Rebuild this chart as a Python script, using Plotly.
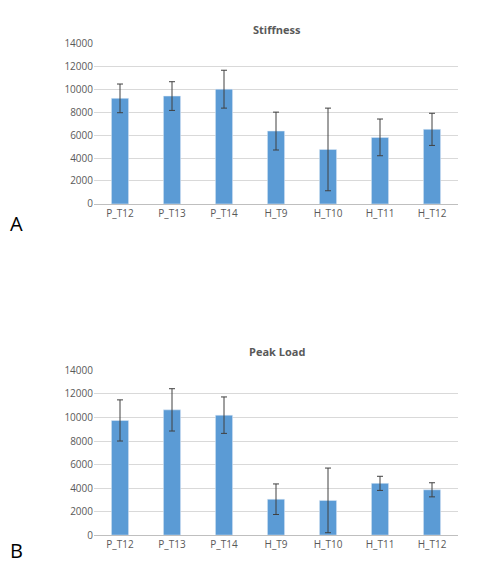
import plotly.graph_objects as go

categories = ["P_T12", "P_T13", "P_T14", "H_T9", "H_T10", "H_T11", "H_T12"]
stiffness = [9200, 9400, 10000, 6350, 4750, 5800, 6500]
stiffness_err = [1250, 1250, 1650, 1650, 3600, 1600, 1400]
peak_load = [9750, 10650, 10200, 3050, 2950, 4400, 3850]
peak_load_err = [1750, 1800, 1550, 1300, 2750, 600, 600]
y_ticks = [0, 2000, 4000, 6000, 8000, 10000, 12000, 14000]
y_tick_labels = [str(v) for v in y_ticks]

H = 574
W = 498
fig = go.Figure()
bar_color = "#5B9BD5"
for vals, errs, ax in [(stiffness, stiffness_err, ""), (peak_load, peak_load_err, "2")]:
    fig.add_trace(go.Bar(x=categories, y=vals, marker_color=bar_color, width=0.33,
                         error_y=dict(type="data", array=errs, color="#404040", thickness=1, width=3),
                         xaxis="x" + ax, yaxis="y" + ax, showlegend=False))

font = dict(family="Open Sans, sans-serif", size=10, color="#595959")
axis_common = dict(showline=True, linecolor="#BFBFBF", ticks="", tickfont=font)
yax_common = dict(range=[0, 14000], tickvals=y_ticks, ticktext=y_tick_labels, showgrid=True,
                  gridcolor="#D9D9D9", zeroline=False, tickfont=font, ticks="")
xd = [86 / W, 450 / W]
fig.update_layout(
    width=W, height=H, margin=dict(l=0, r=0, t=0, b=0),
    plot_bgcolor="white", paper_bgcolor="white",
    xaxis=dict(domain=xd, anchor="y", **axis_common),
    yaxis=dict(domain=[1 - 193 / H, 1 - 28 / H], anchor="x", **yax_common),
    xaxis2=dict(domain=xd, anchor="y2", **axis_common),
    yaxis2=dict(domain=[1 - 533 / H, 1 - 364 / H], anchor="x2", **yax_common),
    annotations=[
        dict(text="<b>Stiffness</b>", x=0.54, y=1 - 4 / H, xref="paper", yref="paper", yanchor="top",
             showarrow=False, font=dict(family="Open Sans, sans-serif", size=11, color="#595959")),
        dict(text="<b>Peak Load</b>", x=0.54, y=1 - 344 / H, xref="paper", yref="paper",
             showarrow=False, font=dict(family="Open Sans, sans-serif", size=11, color="#595959")),
        dict(text="A", x=0.0, y=1 - 213 / H, xref="paper", yref="paper", xanchor="left",
             showarrow=False, font=dict(family="Open Sans, sans-serif", size=20, color="black")),
        dict(text="B", x=0.0, y=1 - 565 / H, xref="paper", yref="paper", xanchor="left",
             showarrow=False, font=dict(family="Open Sans, sans-serif", size=20, color="black")),
    ],
)
fig.write_html("out.html")
